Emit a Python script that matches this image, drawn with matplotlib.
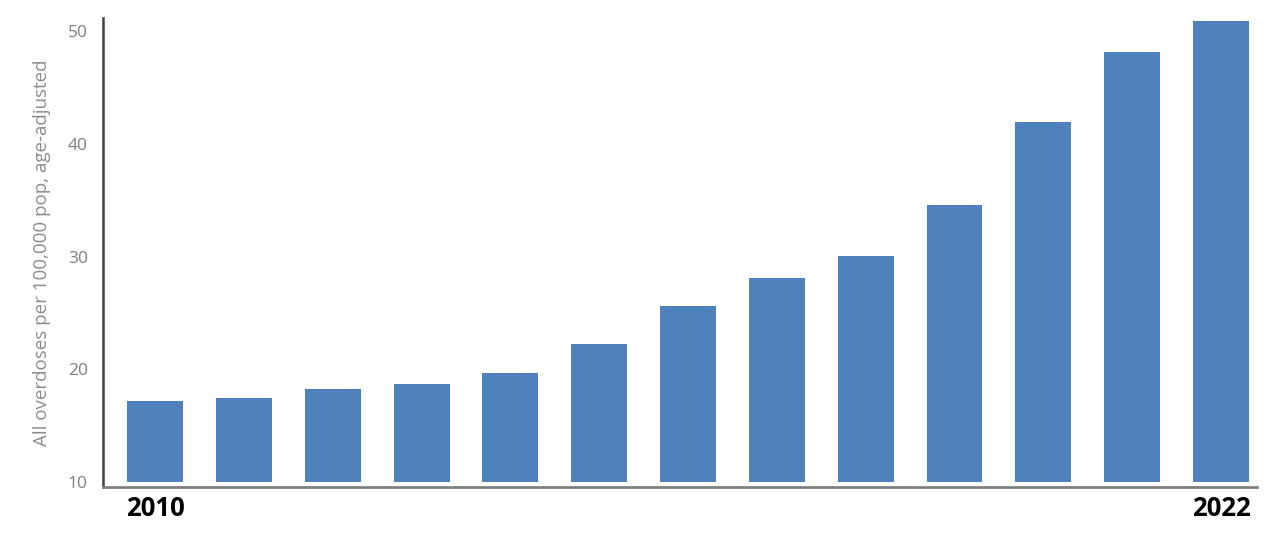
import matplotlib
matplotlib.use("Agg")
import matplotlib.pyplot as plt

years = list(range(2010, 2023))
rates = [17.2, 17.5, 18.3, 18.7, 19.7, 22.3, 25.6, 28.1, 30.1, 34.6, 42.0, 48.2, 50.9]
base = 10
y_ticks = [10, 20, 30, 40, 50]
x_labels = {2010: "2010", 2022: "2022"}

plt.rcParams['font.family'] = ['Open Sans', 'DejaVu Sans']

fig = plt.figure(figsize=(12.8, 5.43), dpi=100)
ax = fig.add_axes([0.0805, 0.1031, 0.9015, 0.8638])

pos = list(range(len(years)))
ax.bar(pos, [r - base for r in rates], bottom=base, width=0.63, color="#4F81BD")

ax.set_xlim(-0.586, len(years) - 1 + 0.405)
ax.set_ylim(9.56, 51.2)

ax.set_yticks(y_ticks)
ax.set_yticklabels([str(t) for t in y_ticks], color="#7f7f7f", fontsize=12.5)
ax.tick_params(axis="y", length=0, pad=11)

tick_pos = [years.index(y) for y in x_labels]
ax.set_xticks(tick_pos)
ax.set_xticklabels(list(x_labels.values()), fontsize=18.5, fontweight="bold", color="black")
ax.tick_params(axis="x", length=0, pad=6)

ax.set_ylabel("All overdoses per 100,000 pop, age-adjusted", color="#8c8c8c", fontsize=13.5, labelpad=12)

for s in ["top", "right"]:
    ax.spines[s].set_visible(False)
ax.spines["left"].set_color("#404040")
ax.spines["left"].set_linewidth(1.8)
ax.spines["bottom"].set_color("#808080")
ax.spines["bottom"].set_linewidth(2)

fig.savefig("out.png", dpi=100)
